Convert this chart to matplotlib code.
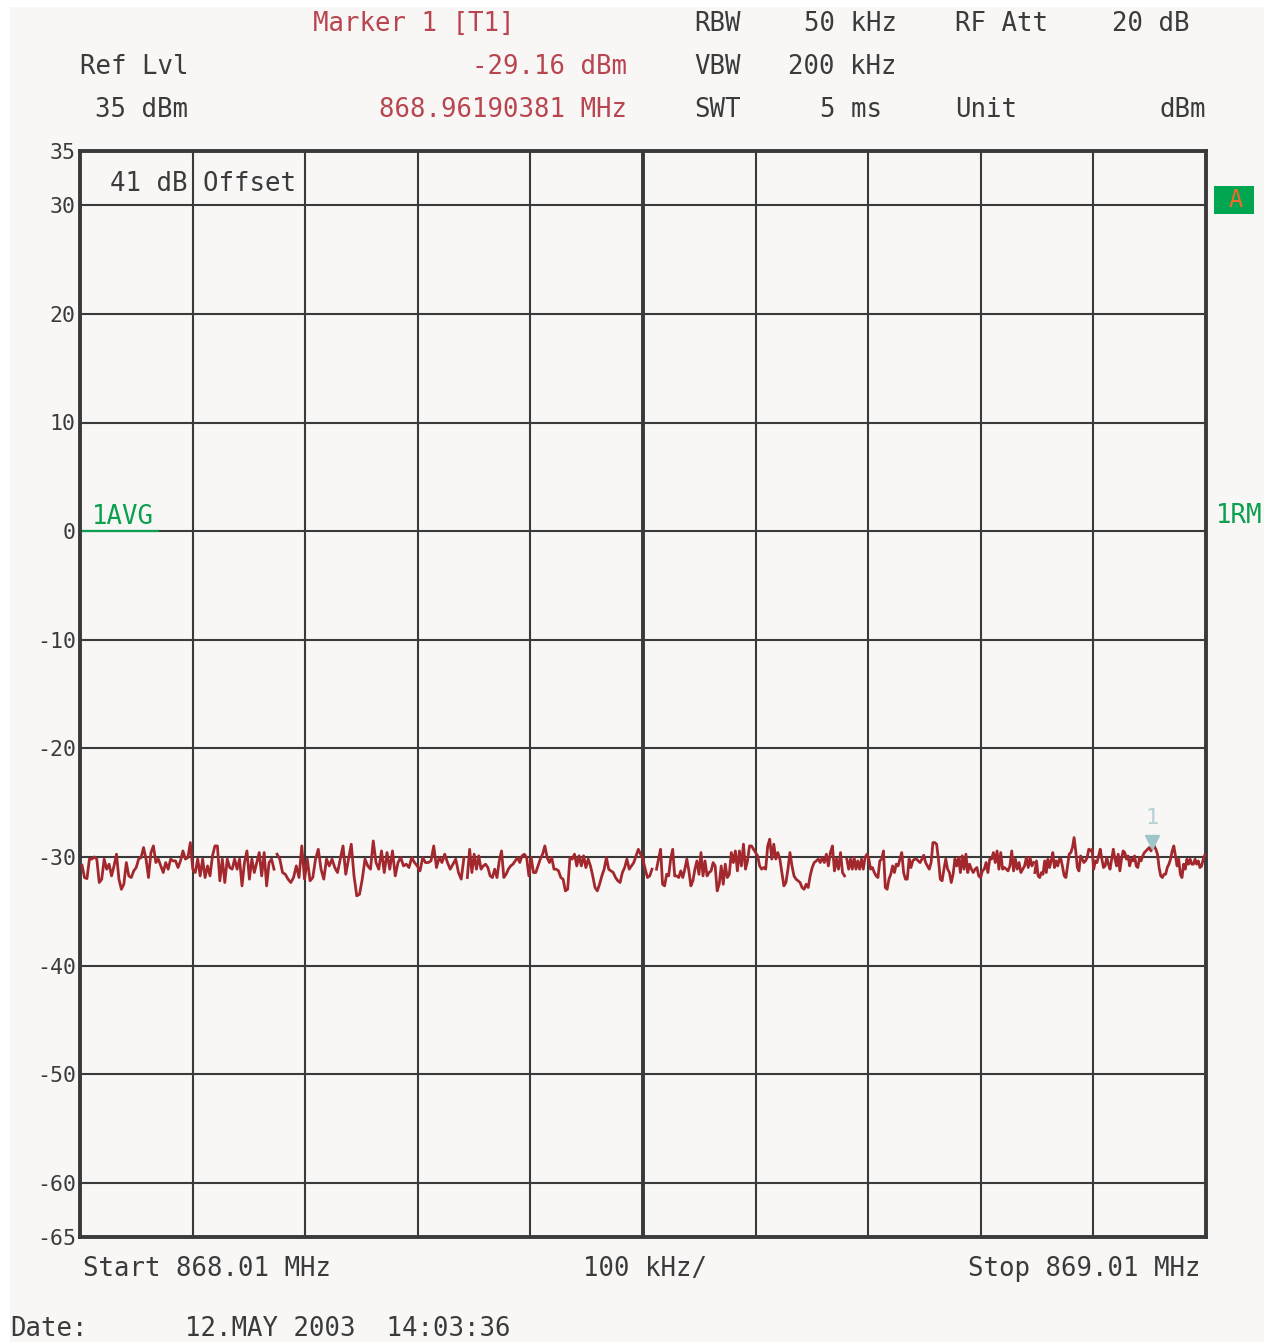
import numpy as np
import matplotlib
matplotlib.use("Agg")
import matplotlib.pyplot as plt
from matplotlib.patches import Rectangle

# ---------------- data ----------------
start_mhz = 868.01
stop_mhz = 869.01
ref_level_dbm = 35
bottom_dbm = -65
ytick_values = [35, 30, 20, 10, 0, -10, -20, -30, -40, -50, -60, -65]
marker_freq_mhz = 868.96190381
marker_level_dbm = -29.16

# trace in six pieces: (first MHz, last MHz, levels dBm)
seg1_mhz = (868.0118, 868.1823)
seg1_dbm = [-30.77, -31.90, -32.0, -30.2, -30.2, -30.0, -30.2, -32.36, -32.05, -30.2,
            -31.13, -30.67, -31.75, -30.83, -29.75, -32.05, -32.98, -32.5, -30.52, -31.75,
            -31.9, -31.29, -30.98, -30.2, -30.06, -29.14, -30.2, -31.9, -29.6, -28.99,
            -30.52, -30.2, -30.83, -31.44, -30.52, -31.13, -30.2, -30.37, -30.37, -30.98,
            -30.37, -29.45, -30.2, -30.06, -28.68, -31.13, -31.44, -30.2, -31.75, -30.2,
            -31.9, -30.83, -31.75, -29.9, -28.99, -28.99, -32.2, -30.2, -32.36, -30.2,
            -30.98, -31.13, -30.2, -31.13, -30.2, -32.67, -30.52, -29.45, -32.05, -30.2,
            -31.44, -30.52, -29.6, -31.75, -29.6, -32.67, -30.52, -30.2, -31.13]
seg2_mhz = (868.1850, 868.3510)
seg2_dbm = [-29.75, -30.2, -31.44, -31.6, -32.05, -32.36, -31.9, -30.83, -31.9, -28.99,
            -32.05, -30.2, -32.2, -31.9, -30.2, -29.3, -31.13, -32.05, -30.2, -30.83,
            -30.2, -30.98, -31.44, -30.2, -28.99, -31.6, -30.2, -28.83, -31.75, -33.59,
            -33.44, -32.05, -30.2, -30.83, -31.13, -28.53, -30.52, -31.13, -29.45, -31.44,
            -29.6, -31.13, -29.45, -31.75, -30.52, -30.06, -30.83, -30.67, -30.98, -30.06,
            -30.52, -30.83, -31.29, -30.06, -30.52, -30.52, -30.37, -28.99, -30.98, -30.06,
            -30.52, -29.75, -30.52, -31.13, -30.67, -30.2, -31.44, -32.05, -30.06]
seg3_mhz = (868.3540, 868.5180)
seg3_dbm = [-31.9, -29.3, -31.44, -29.75, -31.13, -29.9, -31.13, -30.83, -30.67, -30.98,
            -31.75, -31.9, -31.13, -31.9, -30.37, -29.45, -31.9, -31.6, -31.13, -30.83,
            -30.67, -30.37, -30.06, -30.52, -29.9, -29.75, -30.06, -31.75, -30.06, -31.44,
            -31.44, -30.83, -30.2, -29.75, -28.99, -30.06, -30.52, -30.06, -31.13, -31.13,
            -31.29, -31.9, -32.05, -33.13, -32.98, -30.06, -30.2, -29.75, -30.83, -29.9,
            -30.83, -29.9, -30.98, -30.2, -30.83, -31.75, -32.82, -33.13, -32.52, -31.75,
            -31.13, -30.06, -31.13, -31.29, -31.44, -31.9, -32.2, -32.36, -31.44, -30.98,
            -30.2, -31.13, -30.83, -30.52, -29.9, -29.3, -29.75, -30.2, -31.13, -31.9,
            -31.75, -31.13]
seg4_mhz = (868.5220, 868.6890)
seg4_dbm = [-31.13, -30.2, -29.3, -32.52, -32.67, -31.6, -31.75, -30.2, -29.3, -31.75,
            -31.75, -31.9, -31.29, -31.9, -31.13, -30.2, -31.29, -32.67, -32.2, -31.13,
            -30.37, -31.6, -29.6, -31.75, -30.37, -31.75, -31.44, -31.29, -30.52, -30.83,
            -33.13, -32.52, -30.83, -32.52, -30.67, -31.9, -31.6, -29.6, -30.52, -29.45,
            -31.29, -29.45, -30.83, -28.83, -31.13, -30.37, -28.99, -28.99, -29.3, -29.6,
            -29.9, -30.83, -31.13, -30.98, -31.13, -28.99, -28.37, -30.2, -28.83, -30.2,
            -29.6, -30.2, -31.44, -32.67, -32.36, -31.13, -29.6, -30.83, -31.75, -32.05,
            -32.2, -32.36, -32.82, -32.98, -32.52, -32.82, -31.75, -30.98, -30.52, -30.37,
            -30.2, -30.52, -30.06, -30.52, -29.75, -30.83, -29.6, -28.99, -31.29, -30.2,
            -31.13, -29.6, -31.44, -31.75]
seg5_mhz = (868.6910, 868.8570)
seg5_dbm = [-30.2, -31.13, -30.2, -31.13, -30.06, -31.13, -30.37, -31.13, -30.2, -31.13,
            -30.06, -29.75, -30.2, -31.13, -30.98, -31.44, -31.75, -31.9, -30.37, -30.2,
            -29.45, -32.82, -32.98, -32.05, -31.6, -30.83, -31.44, -30.67, -30.83, -30.2,
            -29.6, -31.44, -32.05, -32.05, -30.2, -30.98, -30.37, -30.2, -30.2, -30.37,
            -30.52, -30.2, -29.85, -30.52, -30.83, -31.13, -30.52, -28.68, -28.68, -28.83,
            -30.2, -32.05, -32.2, -31.13, -30.2, -31.13, -31.44, -32.36, -31.6, -30.2,
            -30.83, -30.06, -31.44, -29.9, -31.13, -29.75, -31.44, -30.67, -31.13, -31.44,
            -31.13, -30.98, -31.75, -31.9, -31.29, -31.13, -30.52, -31.44, -30.2, -30.2,
            -29.6, -30.52, -29.45, -31.13, -29.6, -31.13, -30.98, -31.13, -31.29, -30.83,
            -29.45, -31.29, -30.2, -31.13, -30.52, -31.44, -31.13, -30.83, -30.06, -30.98,
            -30.06, -30.83, -30.52]
seg6_mhz = (868.8580, 869.0090)
seg6_dbm = [-31.44, -30.37, -31.75, -31.9, -31.44, -31.6, -30.37, -31.44, -30.21, -30.98,
            -30.37, -29.6, -30.98, -30.37, -30.83, -30.21, -30.21, -30.98, -31.75, -31.9,
            -30.83, -29.75, -29.6, -29.14, -28.22, -29.45, -30.98, -31.29, -29.91, -30.21,
            -30.52, -30.37, -30.06, -29.29, -29.45, -29.29, -31.13, -30.37, -30.52, -29.91,
            -29.29, -30.21, -30.98, -30.83, -30.06, -30.67, -31.13, -30.21, -29.29, -30.21,
            -30.83, -29.75, -31.29, -30.21, -29.45, -29.6, -30.21, -29.91, -30.83, -30.21,
            -30.37, -29.91, -30.83, -30.98, -30.06, -30.37, -29.91, -29.6, -29.45, -29.29,
            -29.14, -29.45, -29.14, -28.99, -29.29, -29.75, -30.98, -31.75, -31.9, -31.6,
            -31.6, -30.98, -30.67, -30.21, -29.45, -28.99, -29.91, -30.83, -30.21, -31.6,
            -31.9, -30.67, -31.13, -30.21, -30.67, -30.21, -30.67, -30.67, -30.21, -30.67,
            -30.37, -30.98, -30.83, -30.21, -29.82]
segments = [(seg1_mhz, seg1_dbm), (seg2_mhz, seg2_dbm), (seg3_mhz, seg3_dbm),
            (seg4_mhz, seg4_dbm), (seg5_mhz, seg5_dbm), (seg6_mhz, seg6_dbm)]

# ---------------- figure ----------------
W, H = 1269, 1342
fig = plt.figure(figsize=(W / 100, H / 100), dpi=100)
fig.patch.set_facecolor("white")
fig.patches.append(Rectangle((10 / W, 0), (1264 - 10) / W, 1 - 7 / H,
                             transform=fig.transFigure, facecolor="#f8f7f6",
                             edgecolor="none", zorder=-10))

def px(x, y):
    return x / W, 1 - y / H

MONO = ["DejaVu Sans Mono"]
DARK = "#3b3b3b"
RED = "#b8454f"
GREEN = "#0aa04f"
FS = 18.5

ax = fig.add_axes([80 / W, 1 - 1237 / H, (1206 - 80) / W, (1237 - 151) / H])
ax.set_zorder(1)
ax.set_facecolor("#f8f7f6")
ax.set_xlim(start_mhz, stop_mhz)
ax.set_ylim(bottom_dbm, ref_level_dbm)

span = stop_mhz - start_mhz
ax.set_xticks([start_mhz + span * k / 10 for k in range(11)])
ax.set_xticklabels([])
ax.set_yticks(ytick_values)
ax.set_yticklabels([str(v) for v in ytick_values], family=MONO, fontsize=15.5, color=DARK)
ax.tick_params(length=0, pad=3)
ax.grid(True, color="#3a3a3a", linewidth=1.5, zorder=1)
ax.axvline(start_mhz + span / 2, color="#3a3a3a", linewidth=2.8, zorder=1)
for s in ax.spines.values():
    s.set_linewidth(2.8)
    s.set_color("#3a3a3a")

for (f0, f1), vals in segments:
    f = np.linspace(f0, f1, len(vals))
    ax.plot(f, vals, color="#a3282e", linewidth=2.0, zorder=3, solid_joinstyle="round")

# marker
ax.plot([marker_freq_mhz], [marker_level_dbm + 0.55], marker="v", markersize=10,
        color="#9fc5c8", zorder=4, linestyle="none")
ax.annotate("1", (marker_freq_mhz, marker_level_dbm), xytext=(0, 14),
            textcoords="offset points", ha="center", va="bottom",
            color="#b3d0d2", fontsize=16, family=MONO, zorder=4)

# inside-plot labels
ax.text(start_mhz + (110 - 80) / 1126 * span, 32.0, "41 dB Offset", family=MONO,
        fontsize=FS, color=DARK, va="center", ha="left", zorder=4)
ax.text(start_mhz + (92 - 80) / 1126 * span, 1.3, "1AVG", family=MONO, fontsize=FS,
        color=GREEN, va="center", ha="left")
ax.plot([start_mhz + 3 / 1126 * span, start_mhz + 78 / 1126 * span], [0, 0],
        color=GREEN, linewidth=1.6, zorder=2)

# header texts
def ftext(x, y, s, color=DARK, ha="left", size=FS):
    fig.text(*px(x, y), s, family=MONO, fontsize=size, color=color, ha=ha, va="center")

ftext(313, 24, "Marker 1 [T1]", RED)
ftext(694, 24, "RBW")
ftext(897, 24, "50 kHz", ha="right")
ftext(955, 24, "RF Att")
ftext(1190, 24, "20 dB", ha="right")
ftext(80, 67, "Ref Lvl")
ftext(627, 67, "-29.16 dBm", RED, ha="right")
ftext(694, 67, "VBW")
ftext(897, 67, "200 kHz", ha="right")
ftext(188, 110, "35 dBm", ha="right")
ftext(627, 110, "868.96190381 MHz", RED, ha="right")
ftext(694, 110, "SWT")
ftext(882, 110, "5 ms", ha="right")
ftext(955, 110, "Unit")
ftext(1206, 110, "dBm", ha="right")

# right side indicators
fig.patches.append(Rectangle(px(1214, 214), 40 / W, 28 / H, transform=fig.transFigure,
                             facecolor="#00a650", edgecolor="none", zorder=2))
fig.text(*px(1236, 200), "A", family=MONO, fontsize=17, color="#f26b2a",
         ha="center", va="center", zorder=3)
ftext(1216, 516, "1RM", GREEN)

# footer
ftext(83, 1269, "Start 868.01 MHz")
ftext(583, 1269, "100 kHz/")
ftext(1200, 1269, "Stop 869.01 MHz", ha="right")
ftext(10, 1329, "Date:")
ftext(185, 1329, "12.MAY 2003  14:03:36")

fig.savefig("out.png", dpi=100, facecolor=fig.get_facecolor())
